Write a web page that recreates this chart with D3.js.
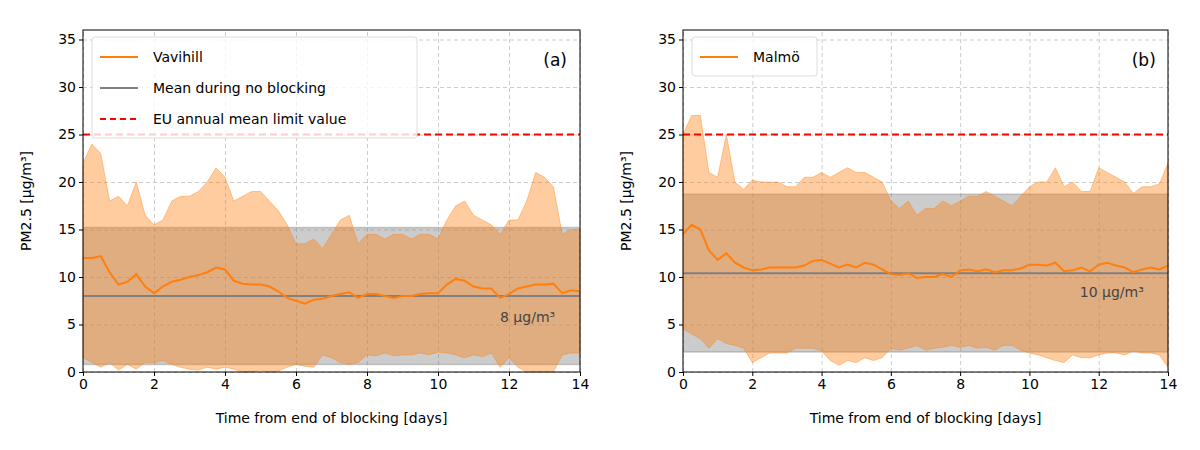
<!DOCTYPE html><html><head><meta charset="utf-8"><script src="https://cdn.jsdelivr.net/npm/d3@7"></script>
<style>body{margin:0;background:#fff}text{font-family:"DejaVu Sans",sans-serif}</style></head><body><svg id="c" width="1200" height="450"></svg>
<script>
const days=d3.range(0,14.001,0.25);
const yTicks=[0,5,10,15,20,25,30,35];
const xTicks=[0,2,4,6,8,10,12,14];
const meanA=[12,12,12.2,10.5,9.2,9.5,10.3,9,8.3,9,9.5,9.7,10,10.2,10.5,11,10.8,9.6,9.3,9.2,9.2,9,8.5,7.8,7.5,7.2,7.6,7.7,8,8.2,8.4,7.8,8.2,8.2,8,7.8,8,8,8.2,8.3,8.3,9.2,9.8,9.6,9,8.8,8.8,7.8,8.2,8.8,9,9.2,9.2,9.3,8.3,8.6,8.5];
const upA=[22,24,23,18,18.5,17.5,20,16.5,15.5,16,18,18.5,18.5,19,20,21.5,20.5,18,18.5,19,19,18,17,15.5,13.5,13.5,14,13,14.5,16,16.5,13.5,14.5,14.5,14,14.5,14.5,14,14.5,14.5,14,16,17.5,18,16.5,16,15.5,14.5,16,16,18,21,20.5,19.5,14.5,15,15];
const loA=[1.5,1,0.5,1,0.2,0.8,0.3,1,1,1.2,0.8,0.5,0.3,0.2,0.5,0.3,0.5,0.3,0,0,0.2,0,0.1,0.5,0.8,0.6,0.5,1.8,1.5,1,0.8,1,1.8,1.7,2,1.7,1.8,1.8,2,1.8,2.1,2,1.8,1.5,1.8,1.6,2,0.5,1.5,0.5,0,0,0,0,1.8,2,2];
const meanB=[14.5,15.5,15,12.8,11.8,12.5,11.5,11,10.7,10.8,11,11,11,11,11.2,11.7,11.8,11.4,11,11.3,11,11.5,11.3,10.8,10.3,10.2,10.4,9.9,10,10,10.3,10,10.7,10.8,10.6,10.8,10.5,10.7,10.7,10.9,11.3,11.3,11.2,11.5,10.6,10.7,11,10.6,11.3,11.5,11.2,11,10.5,10.8,11,10.8,11.2];
const upB=[25,27,27,21,20.5,25,20,19.2,20.2,20,20,20,19.5,19.5,20.5,20.5,21,20.5,21,21.5,21,21,20.5,20,18,17.2,18,16.5,17.2,17.2,18,17.5,18,18.5,18.5,19,18.5,18,17.5,18.5,19.5,20,20,21.5,19.5,20,19,19,21.5,21,20.5,20,18.8,19.5,19.5,19.8,22];
const loB=[4.5,4,3.5,2.5,3.5,3,2.8,2.5,1,1.5,2,2,2,2.5,2.5,2.5,2.2,1.2,0.7,1.2,1,1.5,1.2,1.5,2.5,2.3,2.5,2.8,2.3,2.5,2.6,2.8,2.6,2.8,2.5,2.6,2.3,2.8,2.8,2.3,2,1.8,1.5,1.2,1,1.8,1.5,1.5,1.8,2,2,1.8,2.2,2,2,1.8,0.5];
const panels=[
 {x0:83,x1:580,mean:meanA,up:upA,lo:loA,bandLo:0.8,bandHi:15.2,ref:8,refLabel:"8 µg/m³",tag:"(a)",legend:["Vavihill","Mean during no blocking","EU annual mean limit value"]},
 {x0:683,x1:1168,mean:meanB,up:upB,lo:loB,bandLo:2.1,bandHi:18.7,ref:10.4,refLabel:"10 µg/m³",tag:"(b)",legend:["Malmö"]}];
const svg=d3.select("#c");
const limit=25;
panels.forEach(p=>{
 const x=d3.scaleLinear().domain([0,14]).range([p.x0,p.x1]);
 const y=d3.scaleLinear().domain([0,36]).range([372,30]);
 const g=svg.append("g");
 g.append("g").attr("transform","translate(0,372)").call(d3.axisBottom(x).tickValues(xTicks).tickSize(-342).tickFormat(""))
  .call(a=>{a.selectAll("line").attr("stroke","#ccc").attr("stroke-dasharray","4,3");a.select(".domain").remove();});
 g.append("g").attr("transform",`translate(${p.x0},0)`).call(d3.axisLeft(y).tickValues(yTicks).tickSize(-(p.x1-p.x0)).tickFormat(""))
  .call(a=>{a.selectAll("line").attr("stroke","#ccc").attr("stroke-dasharray","4,3");a.select(".domain").remove();});
 g.append("rect").attr("x",p.x0).attr("width",p.x1-p.x0).attr("y",y(p.bandHi)).attr("height",y(p.bandLo)-y(p.bandHi)).attr("fill","rgba(128,128,128,0.4)");
 g.append("line").attr("x1",p.x0).attr("x2",p.x1).attr("y1",y(p.bandHi)).attr("y2",y(p.bandHi)).attr("stroke","rgba(128,128,128,0.4)").attr("stroke-width",1.5);
 g.append("line").attr("x1",p.x0).attr("x2",p.x1).attr("y1",y(p.bandLo)).attr("y2",y(p.bandLo)).attr("stroke","rgba(128,128,128,0.4)").attr("stroke-width",1.5);
 const area=d3.area().x((d,i)=>x(days[i])).y0((d,i)=>y(p.lo[i])).y1((d,i)=>y(p.up[i]));
 g.append("path").datum(p.up).attr("d",area).attr("fill","rgba(255,127,14,0.4)").attr("stroke","rgba(255,127,14,0.4)").attr("stroke-width",1);
 g.append("line").attr("x1",p.x0).attr("x2",p.x1).attr("y1",y(p.ref)).attr("y2",y(p.ref)).attr("stroke","#808080").attr("stroke-width",2);
 g.append("line").attr("x1",p.x0).attr("x2",p.x1).attr("y1",y(limit)).attr("y2",y(limit)).attr("stroke","#ff0000").attr("stroke-width",2).attr("stroke-dasharray","7,4");
 g.append("path").datum(p.mean).attr("d",d3.line().x((d,i)=>x(days[i])).y(d=>y(d))).attr("fill","none").attr("stroke","#ff7f0e").attr("stroke-width",2);
 g.append("text").attr("x",x(13.3)).attr("y",y(p.ref)+ (p.ref<9?26:24)).attr("text-anchor","end").attr("font-size",14).attr("fill","#444").text(p.refLabel);
 g.append("text").attr("x",x(13.3)).attr("y",66).attr("text-anchor","middle").attr("font-size",17).text(p.tag);
 g.append("rect").attr("x",p.x0).attr("y",30).attr("width",p.x1-p.x0).attr("height",342).attr("fill","none").attr("stroke","#000");
 const ax=g.append("g").attr("transform","translate(0,372)").call(d3.axisBottom(x).tickValues(xTicks).tickSize(4));
 const ay=g.append("g").attr("transform",`translate(${p.x0},0)`).call(d3.axisLeft(y).tickValues(yTicks).tickSize(4));
 [ax,ay].forEach(a=>{a.select(".domain").remove();a.selectAll("text").attr("font-size",14).attr("font-family","DejaVu Sans").attr("fill","#000");});
 g.append("text").attr("x",(p.x0+p.x1)/2).attr("y",423).attr("text-anchor","middle").attr("font-size",14).text("Time from end of blocking [days]");
 g.append("text").attr("transform",`translate(${p.x0-52},201) rotate(-90)`).attr("text-anchor","middle").attr("font-size",14).text("PM2.5 [µg/m³]");
 const lw=p.legend.length>1?325:125, lh=p.legend.length*31+8;
 const lg=g.append("g").attr("transform",`translate(${p.x0+9},37)`);
 lg.append("rect").attr("width",lw).attr("height",lh).attr("rx",3).attr("fill","rgba(255,255,255,0.8)").attr("stroke","#ddd");
 const st=[{c:"#ff7f0e",d:null},{c:"#808080",d:null},{c:"#ff0000",d:"6,4"}];
 p.legend.forEach((t,i)=>{
  const yy=20+i*31;
  lg.append("line").attr("x1",8).attr("x2",46).attr("y1",yy).attr("y2",yy).attr("stroke",st[i].c).attr("stroke-width",2).attr("stroke-dasharray",st[i].d);
  lg.append("text").attr("x",61).attr("y",yy+5).attr("font-size",14).text(t);
 });
});
</script></body></html>
